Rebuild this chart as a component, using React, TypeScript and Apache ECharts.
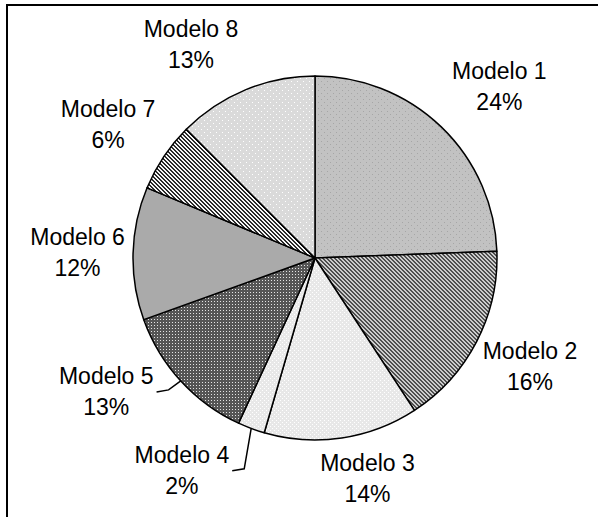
import { useEffect, useRef } from "react";
import * as echarts from "echarts";

// ---- data ----
const categories = ["Modelo 1", "Modelo 2", "Modelo 3", "Modelo 4", "Modelo 5", "Modelo 6", "Modelo 7", "Modelo 8"];
const shares = [24.4, 16.4, 13.7, 2.4, 12.6, 11.8, 6.2, 12.5];
const leaderItems = ["Modelo 4", "Modelo 5"];

// ---- layout (label placement around the pie) ----
const CX = 315;
const CY = 258;
const R = 182;
const labelDist = [252, 241, 227, 251, 248, 237.5, 246, 246.5];
const labelTurn = [3.1, -0.5, -4.9, 11.5, 9.8, -0.2, -1.1, -7.7];

type Painter = (x: number, y: number) => string;
function tile(size: number, fn: Painter) {
  const c = document.createElement("canvas");
  c.width = size;
  c.height = size;
  const ctx = c.getContext("2d")!;
  for (let y = 0; y < size; y++) {
    for (let x = 0; x < size; x++) {
      ctx.fillStyle = fn(x, y);
      ctx.fillRect(x, y, 1, 1);
    }
  }
  return { image: c.toDataURL(), repeat: "repeat", imageWidth: size, imageHeight: size } as any;
}

function makeFills() {
  const dotsLightOnGray = tile(6, (x, y) => ((x === 0 && y === 0) || (x === 3 && y === 3) ? "#a6a6a6" : "#c2c2c2"));
  const stripesGray = tile(4, (x, y) => ((x - y + 8) % 4 < 2 ? "#4e4e4e" : "#cccccc"));
  const whiteDots = tile(4, (x, y) => ((x === 0 && y === 0) || (x === 2 && y === 2) ? "#ffffff" : "#e8e8e8"));
  const darkGrid = tile(3, (x, y) => (x === 1 && y === 1 ? "#e4e4e4" : "#555555"));
  const stripesBW = tile(4, (x, y) => ((x - y + 8) % 4 < 2 ? "#2a2a2a" : "#f6f6f6"));
  const paleDots = tile(6, (x, y) => ((x === 0 && y === 0) || (x === 3 && y === 3) ? "#ffffff" : "#dadada"));
  return [dotsLightOnGray, stripesGray, whiteDots, whiteDots, darkGrid, "#aaaaaa", stripesBW, paleDots];
}

export default function App() {
  const ref = useRef<HTMLDivElement>(null);

  useEffect(() => {
    if (!ref.current) return;
    const chart = echarts.init(ref.current, null, { renderer: "svg" });
    const fills = makeFills();
    const total = shares.reduce((a, b) => a + b, 0);
    const cum: number[] = [];
    let acc = 0;
    shares.forEach((v) => {
      cum.push(acc);
      acc += v;
    });

    const data = categories.map((name, i) => ({
      name,
      value: shares[i],
      itemStyle: { color: fills[i] },
      labelLine: { show: leaderItems.includes(name) },
    }));

    chart.setOption({
      animation: false,
      backgroundColor: "#ffffff",
      graphic: [
        {
          type: "rect",
          shape: { x: 7, y: 5, width: 700, height: 700 },
          style: { fill: "none", stroke: "#000", lineWidth: 2 },
          silent: true,
        },
      ],
      series: [
        {
          type: "pie",
          center: [CX, CY],
          radius: R,
          startAngle: 90,
          clockwise: true,
          avoidLabelOverlap: false,
          data,
          itemStyle: { borderColor: "#000", borderWidth: 1.5 },
          emphasis: { disabled: true },
          label: {
            show: true,
            position: "outside",
            alignTo: "none",
            color: "#000",
            fontFamily: "Liberation Sans",
            fontSize: 23,
            lineHeight: 31,
            formatter: (p: any) => `${p.name}\n${Math.round(p.value)}%`,
          },
          labelLine: {
            show: false,
            smooth: false,
            lineStyle: { color: "#000", width: 1.5 },
          },
          labelLayout: (params: any) => {
            const i = params.dataIndex;
            const midDeg = ((cum[i] + shares[i] / 2) / total) * 360;
            const a = ((midDeg + labelTurn[i]) * Math.PI) / 180;
            const x = CX + labelDist[i] * Math.sin(a);
            const y = CY - labelDist[i] * Math.cos(a);
            const out: any = { x, y, align: "center", verticalAlign: "middle" };
            if (leaderItems.includes(categories[i])) {
              const m = (midDeg * Math.PI) / 180;
              const sx = CX + R * Math.sin(m);
              const sy = CY - R * Math.cos(m);
              const right = x + params.labelRect.width / 2;
              out.labelLinePoints = [
                [sx, sy],
                [right + 15, y - 2],
                [right + 3, y],
              ];
            }
            return out;
          },
        },
      ],
    });

    return () => chart.dispose();
  }, []);

  return (
    <div
      ref={ref}
      style={{ position: "fixed", left: 0, top: 0, width: 598, height: 517, background: "#fff" }}
    />
  );
}
